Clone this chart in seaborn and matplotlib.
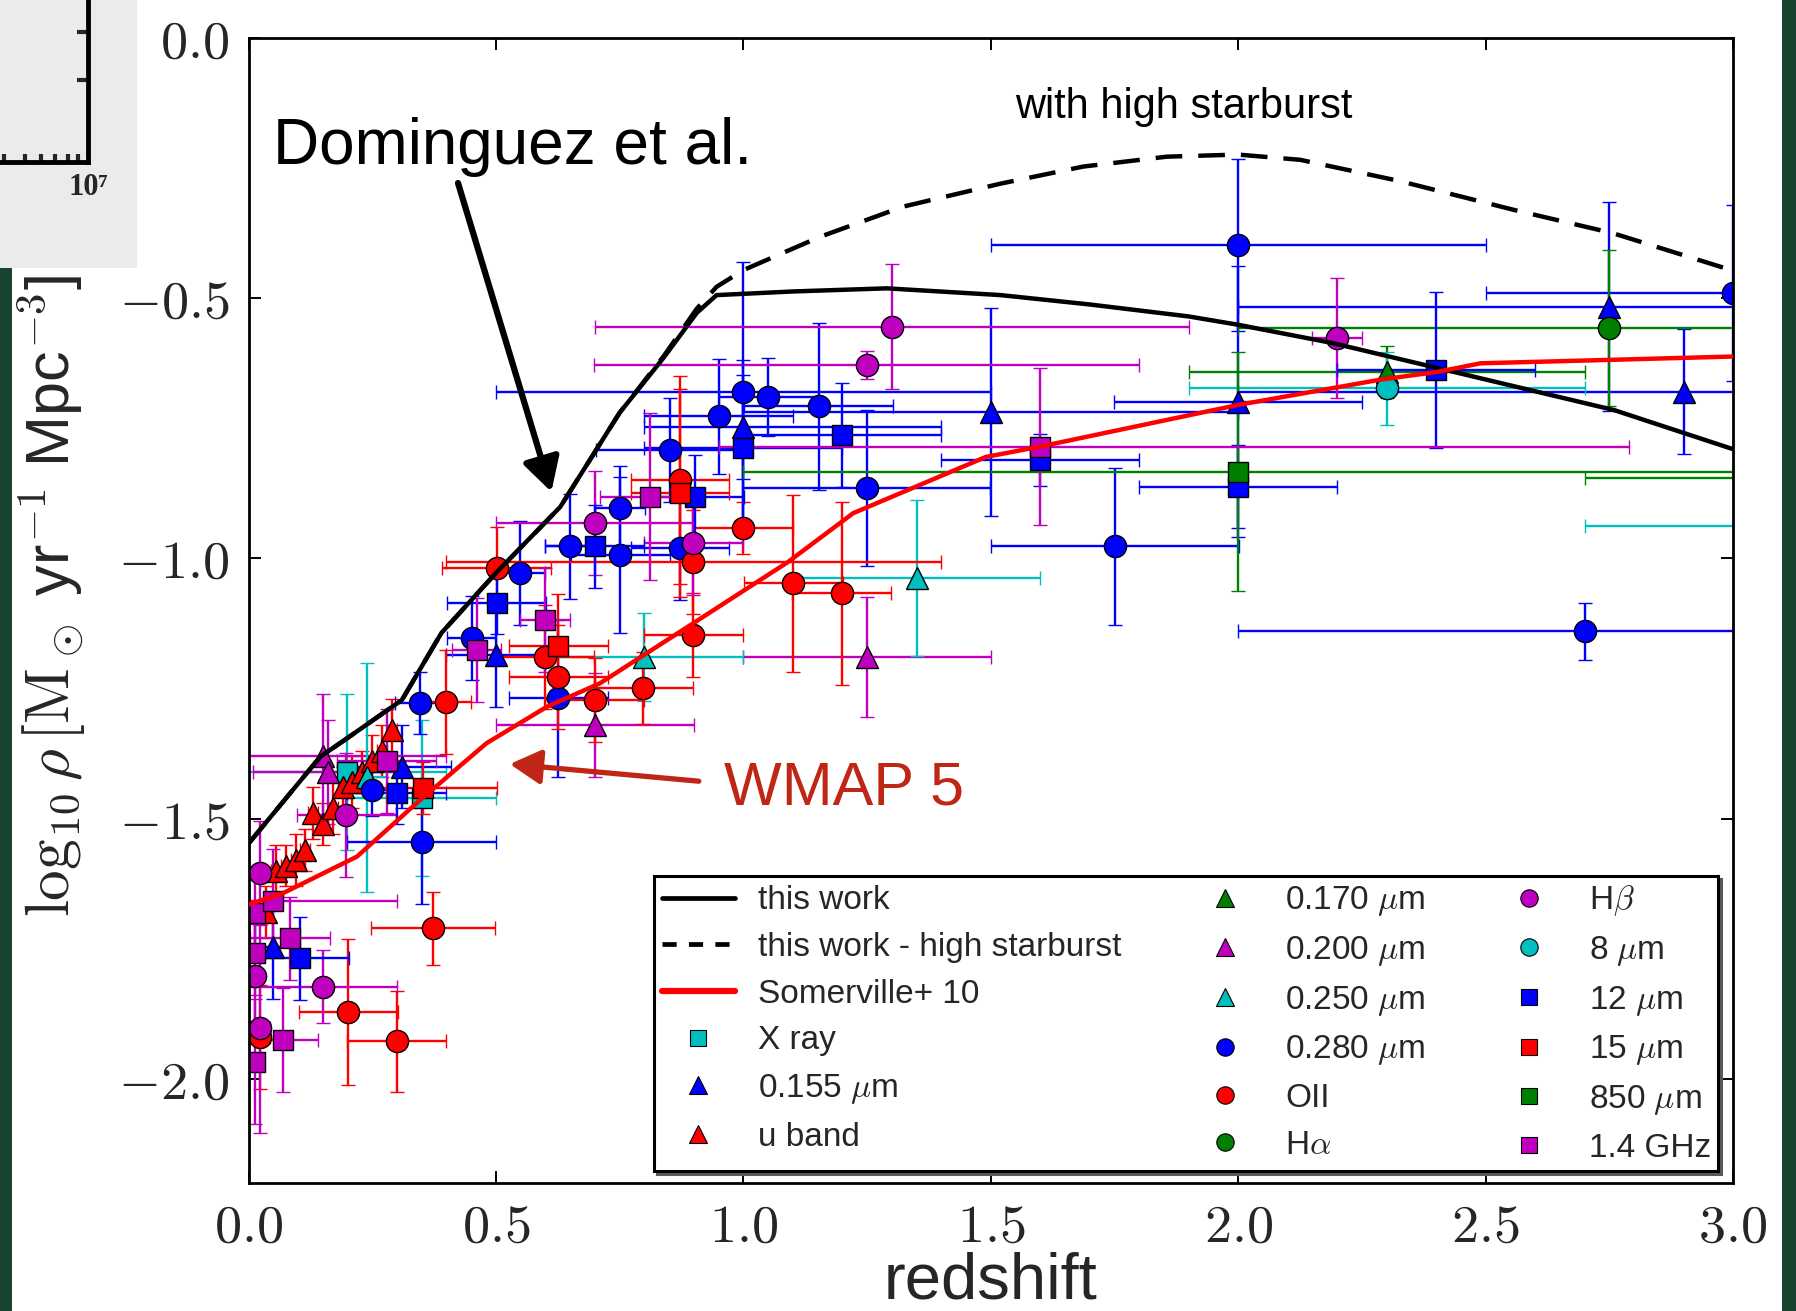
import matplotlib
matplotlib.use("Agg")
import matplotlib.pyplot as plt
from matplotlib.lines import Line2D
from matplotlib.patches import Rectangle
from matplotlib.ticker import FuncFormatter, FixedLocator, LogLocator, NullFormatter
import seaborn as sns

sns.set_style("ticks")
plt.rcParams["font.family"] = ["Liberation Sans", "DejaVu Sans"]
plt.rcParams["mathtext.fontset"] = "cm"

# ---------------- model curves ----------------
THIS_WORK_Z = [0.0, 0.145, 0.20, 0.31, 0.39, 0.50, 0.63, 0.75, 0.84, 0.906, 0.946,
               1.10, 1.29, 1.52, 1.70, 1.90, 2.00, 2.19, 2.42, 2.76, 3.0]
THIS_WORK_RHO = [-1.548, -1.381, -1.345, -1.272, -1.143, -1.028, -0.901, -0.72, -0.613,
                 -0.528, -0.494, -0.487, -0.481, -0.494, -0.512, -0.535, -0.551, -0.586,
                 -0.638, -0.715, -0.79]

HIGH_SB_Z = [0.0, 0.145, 0.20, 0.31, 0.39, 0.50, 0.63, 0.75, 0.84, 0.906, 0.946, 1.0,
             1.155, 1.323, 1.519, 1.687, 1.856, 2.0, 2.125, 2.327, 2.556, 2.757, 3.0]
HIGH_SB_RHO = [-1.548, -1.381, -1.345, -1.272, -1.143, -1.028, -0.901, -0.72, -0.61,
               -0.52, -0.478, -0.446, -0.382, -0.324, -0.28, -0.247, -0.228, -0.224,
               -0.234, -0.275, -0.33, -0.375, -0.447]

SOMERVILLE_Z = [0.0, 0.07, 0.219, 0.347, 0.481, 0.603, 0.71, 0.898, 1.09, 1.222, 1.49,
                1.6, 2.0, 2.29, 2.4, 2.49, 2.69, 3.0]
SOMERVILLE_RHO = [-1.665, -1.643, -1.573, -1.464, -1.355, -1.285, -1.24, -1.125, -1.007,
                  -0.913, -0.805, -0.785, -0.705, -0.656, -0.642, -0.625, -0.620, -0.612]

# ---------------- observational compilation ----------------
XRAY_Z = [0.20, 0.35]
XRAY_RHO = [-1.41, -1.46]
XRAY_DZ = [0.20, 0.15]
XRAY_DRHO = [0.15, 0.15]

UV155_Z = [0.05, 0.31, 0.50, 1.00, 1.50, 2.00, 2.75, 2.90]
UV155_RHO = [-1.746, -1.40, -1.185, -0.747, -0.718, -0.699, -0.516, -0.68]
UV155_DZ_LO = [0.05, 0.10, 0.10, 0.20, 0.50, 0.25, 0.75, 0.90]
UV155_DZ_HI = [0.05, 0.10, 0.10, 0.40, 0.50, 0.25, 0.75, 0.60]
UV155_DRHO = [0.10, 0.08, 0.10, 0.10, 0.20, 0.26, 0.20, 0.12]

UBAND_Z = [0.035, 0.055, 0.075, 0.095, 0.115, 0.13, 0.15, 0.17, 0.19, 0.21, 0.23,
           0.25, 0.27, 0.29]
UBAND_RHO = [-1.68, -1.60, -1.59, -1.58, -1.56, -1.49, -1.51, -1.48, -1.44, -1.43,
             -1.41, -1.39, -1.37, -1.33]
UBAND_DZ = [0.01, 0.01, 0.01, 0.01, 0.01, 0.01, 0.01, 0.01, 0.01, 0.01, 0.01, 0.01,
            0.01, 0.01]
UBAND_DRHO = [0.05, 0.05, 0.04, 0.05, 0.04, 0.05, 0.04, 0.05, 0.04, 0.05, 0.04, 0.05,
              0.05, 0.06]

UV170_Z = [2.30]
UV170_RHO = [-0.641]
UV170_DZ = [0.40]
UV170_DRHO = [0.05]

UV200_Z = [0.15, 0.16, 0.70, 1.25]
UV200_RHO = [-1.38, -1.41, -1.32, -1.19]
UV200_DZ_LO = [0.15, 0.15, 0.20, 0.25]
UV200_DZ_HI = [0.25, 0.15, 0.20, 0.25]
UV200_DRHO = [0.12, 0.10, 0.10, 0.115]

UV250_Z = [0.24, 0.80, 1.35]
UV250_RHO = [-1.42, -1.189, -1.038]
UV250_DZ = [0.04, 0.20, 0.25]
UV250_DRHO = [0.22, 0.085, 0.15]

UV280_Z = [0.249, 0.35, 0.347, 0.451, 0.549, 0.626, 0.65, 0.751, 0.751, 0.852, 0.872,
           0.95, 1.0, 1.05, 1.152, 1.249, 1.751, 2.0, 2.7, 3.0]
UV280_RHO = [-1.445, -1.544, -1.278, -1.153, -1.028, -1.269, -0.977, -0.993, -0.903,
             -0.792, -0.98, -0.727, -0.68, -0.689, -0.708, -0.865, -0.977, -0.398,
             -1.14, -0.49]
UV280_DZ = [0.05, 0.15, 0.05, 0.05, 0.05, 0.10, 0.05, 0.10, 0.05, 0.15, 0.10, 0.15,
            0.50, 0.10, 0.15, 0.25, 0.25, 0.50, 0.70, 0.50]
UV280_DRHO = [0.05, 0.12, 0.06, 0.08, 0.10, 0.15, 0.10, 0.15, 0.08, 0.10, 0.10, 0.11,
              0.25, 0.075, 0.16, 0.15, 0.15, 0.165, 0.055, 0.17]

OII_Z = [0.023, 0.202, 0.30, 0.373, 0.40, 0.502, 0.599, 0.626, 0.70, 0.798, 0.872,
         0.899, 0.899, 1.0, 1.101, 1.199]
OII_RHO = [-1.92, -1.871, -1.928, -1.711, -1.275, -1.019, -1.189, -1.227, -1.272,
           -1.249, -0.849, -1.006, -1.147, -0.942, -1.048, -1.067]
OII_DZ = [0.02, 0.10, 0.10, 0.125, 0.05, 0.11, 0.10, 0.10, 0.10, 0.10, 0.10, 0.50,
          0.10, 0.10, 0.10, 0.10]
OII_DRHO = [0.10, 0.14, 0.097, 0.07, 0.10, 0.08, 0.10, 0.10, 0.08, 0.07, 0.20, 0.10,
            0.08, 0.05, 0.17, 0.176]

HA_Z = [2.75]
HA_RHO = [-0.557]
HA_DZ = [0.75]
HA_DRHO = [0.15]

HB_Z = [0.013, 0.023, 0.023, 0.151, 0.198, 0.70, 0.899, 1.249, 1.30, 2.20]
HB_RHO = [-1.803, -1.605, -1.903, -1.823, -1.493, -0.932, -0.971, -0.628, -0.555,
          -0.577]
HB_DZ = [0.013, 0.02, 0.02, 0.15, 0.10, 0.20, 0.10, 0.55, 0.60, 0.05]
HB_DRHO = [0.10, 0.10, 0.20, 0.07, 0.12, 0.10, 0.10, 0.027, 0.12, 0.115]

IR8_Z = [2.30, 3.40]
IR8_RHO = [-0.673, -0.937]
IR8_DZ = [0.40, 0.70]
IR8_DRHO = [0.07, 0.10]

IR12_Z = [0.104, 0.30, 0.502, 0.70, 0.902, 1.0, 1.199, 1.6, 2.0, 2.4]
IR12_RHO = [-1.768, -1.451, -1.086, -0.977, -0.881, -0.788, -0.763, -0.811, -0.862,
            -0.638]
IR12_DZ = [0.10, 0.10, 0.10, 0.10, 0.10, 0.20, 0.20, 0.20, 0.20, 0.20]
IR12_DRHO = [0.08, 0.06, 0.06, 0.08, 0.08, 0.17, 0.10, 0.05, 0.08, 0.15]

IR15_Z = [0.353, 0.626, 0.872]
IR15_RHO = [-1.441, -1.169, -0.875]
IR15_DZ = [0.15, 0.10, 0.10]
IR15_DRHO = [0.05, 0.10, 0.20]

SMM850_Z = [2.00, 3.50]
SMM850_RHO = [-0.833, -0.845]
SMM850_DZ = [1.00, 0.80]
SMM850_DRHO = [0.23, 0.10]

RADIO_Z = [0.013, 0.013, 0.013, 0.05, 0.07, 0.084, 0.279, 0.461, 0.599, 0.811, 1.60]
RADIO_RHO = [-1.682, -1.759, -1.967, -1.659, -1.925, -1.73, -1.39, -1.176, -1.118,
             -0.881, -0.785]
RADIO_DZ_LO = [0.013, 0.013, 0.013, 0.05, 0.07, 0.08, 0.10, 0.05, 0.05, 0.10, 0.65]
RADIO_DZ_HI = [0.013, 0.013, 0.013, 0.25, 0.07, 0.08, 0.10, 0.05, 0.05, 0.10, 1.19]
RADIO_DRHO = [0.08, 0.08, 0.12, 0.10, 0.10, 0.08, 0.10, 0.10, 0.10, 0.16, 0.15]

X_TICKS = [0.0, 0.5, 1.0, 1.5, 2.0, 2.5, 3.0]
Y_TICKS = [-2.0, -1.5, -1.0, -0.5, 0.0]

BLUE, RED, MAGENTA, CYAN, GREEN = (0, 0, 1), (1, 0, 0), (0.75, 0, 0.75), (0, 0.75, 0.75), (0, 0.5, 0)
WMAP_RED = "#bf2616"
STRIP = "#17432f"

W, H = 1796, 1311
fig = plt.figure(figsize=(W / 100, H / 100), dpi=100)
fig.patch.set_facecolor("white")

ax = fig.add_axes([248.5 / W, 1 - 1183 / H, (1733 - 248.5) / W, (1183 - 38) / H])
ax.set_facecolor("white")

MS = {"o": 16, "s": 14.5, "^": 16}


def draw_group(z, rho, dz_lo, drho, marker, color, dz_hi=None):
    dz_hi = dz_lo if dz_hi is None else dz_hi
    ax.errorbar(z, rho, xerr=[dz_lo, dz_hi], yerr=drho, fmt=marker, color=color,
                ecolor=color, mec="k", mew=1.0, ms=MS[marker], elinewidth=1.7,
                capsize=5, capthick=1.7, zorder=2)


draw_group(XRAY_Z, XRAY_RHO, XRAY_DZ, XRAY_DRHO, "s", CYAN)
draw_group(UV155_Z, UV155_RHO, UV155_DZ_LO, UV155_DRHO, "^", BLUE, UV155_DZ_HI)
draw_group(UBAND_Z, UBAND_RHO, UBAND_DZ, UBAND_DRHO, "^", RED)
draw_group(UV170_Z, UV170_RHO, UV170_DZ, UV170_DRHO, "^", GREEN)
draw_group(UV200_Z, UV200_RHO, UV200_DZ_LO, UV200_DRHO, "^", MAGENTA, UV200_DZ_HI)
draw_group(UV250_Z, UV250_RHO, UV250_DZ, UV250_DRHO, "^", CYAN)
draw_group(UV280_Z, UV280_RHO, UV280_DZ, UV280_DRHO, "o", BLUE)
draw_group(OII_Z, OII_RHO, OII_DZ, OII_DRHO, "o", RED)
draw_group(HA_Z, HA_RHO, HA_DZ, HA_DRHO, "o", GREEN)
draw_group(HB_Z, HB_RHO, HB_DZ, HB_DRHO, "o", MAGENTA)
draw_group(IR8_Z, IR8_RHO, IR8_DZ, IR8_DRHO, "o", CYAN)
draw_group(IR12_Z, IR12_RHO, IR12_DZ, IR12_DRHO, "s", BLUE)
draw_group(IR15_Z, IR15_RHO, IR15_DZ, IR15_DRHO, "s", RED)
draw_group(SMM850_Z, SMM850_RHO, SMM850_DZ, SMM850_DRHO, "s", GREEN)
draw_group(RADIO_Z, RADIO_RHO, RADIO_DZ_LO, RADIO_DRHO, "s", MAGENTA, RADIO_DZ_HI)

# model curves
sns.lineplot(x=HIGH_SB_Z, y=HIGH_SB_RHO, ax=ax, color="k", lw=3.2, sort=False,
             estimator=None, linestyle=(0, (6, 3.6)), zorder=3)
sns.lineplot(x=THIS_WORK_Z, y=THIS_WORK_RHO, ax=ax, color="k", lw=3.2, sort=False,
             estimator=None, zorder=3)
sns.lineplot(x=SOMERVILLE_Z, y=SOMERVILLE_RHO, ax=ax, color=RED, lw=3.2, sort=False,
             estimator=None, zorder=3)

ax.set_xlim(0, 3.0)
ax.set_ylim(-2.2, 0.0)
ax.xaxis.set_major_locator(FixedLocator(X_TICKS))
ax.yaxis.set_major_locator(FixedLocator(Y_TICKS))
ax.xaxis.set_major_formatter(FuncFormatter(lambda v, p: f"${v:.1f}$"))
ax.yaxis.set_major_formatter(FuncFormatter(lambda v, p: f"${v:.1f}$"))
ax.tick_params(which="major", direction="in", length=8.5, width=1.4, top=True,
               right=True, labelsize=39, pad=14, color="k")
ax.minorticks_off()
for sp in ax.spines.values():
    sp.set_visible(True)
    sp.set_linewidth(2.0)
    sp.set_color("k")

ax.set_xlabel("redshift", fontsize=47)
ax.xaxis.set_label_coords(0.5, -0.06)
ax.set_ylabel(r"$\log_{10}\rho\,[\mathrm{M}_\odot$ yr$^{-1}$ Mpc$^{-3}$]", fontsize=44)
ax.yaxis.set_label_coords(-0.108, 0.513)

# annotations
ax.text(0.0487, -0.2417, "Dominguez et al.", fontsize=46, ha="left", va="baseline",
        color="k", zorder=5)
ax.annotate("", xy=(0.612, -0.872), xytext=(0.4234, -0.2786),
            arrowprops=dict(arrowstyle="-|>,head_length=0.45,head_width=0.25",
                            lw=4.5, color="k", mutation_scale=45, shrinkA=0, shrinkB=0),
            zorder=5)
ax.text(0.961, -1.472, "WMAP 5", fontsize=44, ha="left", va="baseline",
        color=WMAP_RED, zorder=5)
ax.annotate("", xy=(0.528, -1.395), xytext=(0.91, -1.428),
            arrowprops=dict(arrowstyle="-|>,head_length=0.45,head_width=0.25",
                            lw=3.8, color=WMAP_RED, mutation_scale=42, shrinkA=0,
                            shrinkB=0),
            zorder=5)
ax.text(1.891, -0.154, "with high starburst", fontsize=30, ha="center",
        va="baseline", color="k", zorder=5)

# legend
def mk(marker, color):
    return Line2D([], [], ls="none", marker=marker, color=color, mec="k", mew=0.8,
                  ms=12.5 if marker != "s" else 11.5)


handles = [
    Line2D([], [], color="k", lw=3.4),
    Line2D([], [], color="k", lw=3.4, ls=(0, (3.0, 2.6))),
    Line2D([], [], color=RED, lw=4.5),
    mk("s", CYAN), mk("^", BLUE), mk("^", RED),
    mk("^", GREEN), mk("^", MAGENTA), mk("^", CYAN), mk("o", BLUE), mk("o", RED),
    mk("o", GREEN),
    mk("o", MAGENTA), mk("o", CYAN), mk("s", BLUE), mk("s", RED), mk("s", GREEN),
    mk("s", MAGENTA),
]
labels = [
    "this work", "this work - high starburst", "Somerville+ 10", "X ray",
    r"0.155 $\mu$m", "u band",
    r"0.170 $\mu$m", r"0.200 $\mu$m", r"0.250 $\mu$m", r"0.280 $\mu$m", "OII",
    r"H$\alpha$",
    r"H$\beta$", r"8 $\mu$m", r"12 $\mu$m", r"15 $\mu$m", r"850 $\mu$m", "1.4 GHz",
]
leg = ax.legend(handles, labels, ncol=3, loc="lower right",
                bbox_to_anchor=(0.99, 0.0105), borderaxespad=0, fontsize=24,
                handlelength=2.2, handletextpad=0.7, columnspacing=2.0,
                labelspacing=0.47, borderpad=0.22, numpoints=1, fancybox=False,
                framealpha=1, edgecolor="k",
                shadow={"color": "0.35", "alpha": 1.0})
leg.get_frame().set_linewidth(2.2)
leg.set_zorder(10)

# partial neighbouring panel in the upper-left corner
fig.add_artist(Rectangle((0, 1 - 268 / H), 137 / W, 268 / H,
                         transform=fig.transFigure, facecolor="#ebebeb",
                         edgecolor="none", zorder=0))
ax_in = fig.add_axes([-332 / W, 1 - 162 / H, 420 / W, 300 / H])
ax_in.set_facecolor("#ebebeb")
ax_in.set_xscale("log")
ax_in.set_xlim(1e5, 1e7)
ax_in.set_ylim(0, 300)
ax_in.spines["left"].set_visible(False)
ax_in.spines["top"].set_visible(False)
for side in ("right", "bottom"):
    ax_in.spines[side].set_linewidth(3.5)
    ax_in.spines[side].set_color("k")
ax_in.xaxis.set_major_locator(FixedLocator([1e7]))
ax_in.xaxis.set_minor_locator(LogLocator(base=10, subs=(2, 3, 4, 5, 6, 7, 8, 9)))
ax_in.xaxis.set_minor_formatter(NullFormatter())
ax_in.set_xticklabels(["10\u2077"], fontsize=22, fontweight="bold",
                      family=["Liberation Serif", "DejaVu Serif"])
ax_in.yaxis.set_major_locator(FixedLocator([82, 130]))
ax_in.yaxis.tick_right()
ax_in.tick_params(axis="y", direction="in", length=8, width=3, labelright=False,
                  labelleft=False, left=False, right=True)
ax_in.tick_params(axis="x", which="major", direction="in", length=0, pad=8)
ax_in.tick_params(axis="x", which="minor", direction="in", length=6, width=3)

# dark edge strips
fig.add_artist(Rectangle((1782 / W, 0), 14 / W, 1, transform=fig.transFigure,
                         facecolor=STRIP, edgecolor="none", zorder=20))
fig.add_artist(Rectangle((0, 0), 12 / W, 1 - 268 / H, transform=fig.transFigure,
                         facecolor=STRIP, edgecolor="none", zorder=20))

fig.savefig("out.png", dpi=100)
